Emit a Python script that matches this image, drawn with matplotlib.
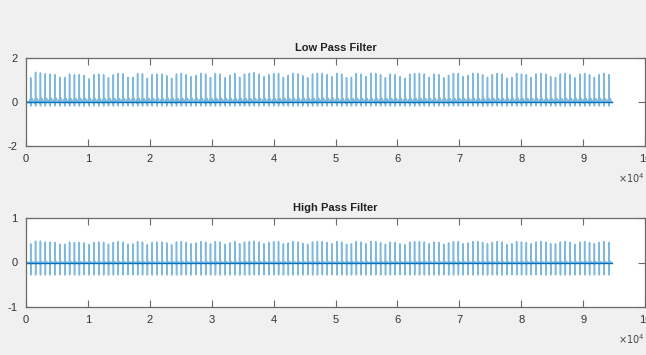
import numpy as np
import matplotlib
matplotlib.use("Agg")
import matplotlib.pyplot as plt
from matplotlib import font_manager

# ---------------- data ----------------
n_samples = 94600          # signal length (samples)
beat_start = 760           # sample of first R peak
rr_interval = 785          # samples between beats

# R-peak heights of the low-pass filtered signal (one per beat)
lp_peaks = [1.10, 1.35, 1.32, 1.28, 1.27, 1.24, 1.12, 1.12, 1.27, 1.24,
            1.24, 1.21, 1.05, 1.24, 1.27, 1.24, 1.10, 1.24, 1.30, 1.28,
            1.12, 1.12, 1.30, 1.28, 1.08, 1.24, 1.27, 1.27, 1.19, 1.08,
            1.27, 1.30, 1.24, 1.15, 1.21, 1.30, 1.27, 1.12, 1.30, 1.27,
            1.10, 1.21, 1.30, 1.12, 1.27, 1.30, 1.33, 1.27, 1.15, 1.24,
            1.30, 1.30, 1.12, 1.21, 1.30, 1.28, 1.19, 1.10, 1.27, 1.30,
            1.30, 1.24, 1.15, 1.30, 1.27, 1.10, 1.12, 1.30, 1.27, 1.15,
            1.30, 1.30, 1.24, 1.10, 1.27, 1.24, 1.15, 1.08, 1.27, 1.30,
            1.30, 1.27, 1.12, 1.27, 1.24, 1.10, 1.21, 1.30, 1.30, 1.15,
            1.21, 1.30, 1.30, 1.24, 1.12, 1.24, 1.30, 1.27, 1.08, 1.12,
            1.30, 1.27, 1.24, 1.12, 1.27, 1.30, 1.27, 1.15, 1.12, 1.27,
            1.30, 1.24, 1.10, 1.27, 1.30, 1.24, 1.12, 1.24, 1.30, 1.24]

# R-peak heights and S-troughs of the high-pass filtered signal
hp_peaks = [0.42, 0.48, 0.48, 0.46, 0.46, 0.45, 0.41, 0.41, 0.46, 0.45,
            0.45, 0.44, 0.40, 0.45, 0.46, 0.45, 0.41, 0.45, 0.47, 0.46,
            0.41, 0.42, 0.47, 0.46, 0.40, 0.45, 0.46, 0.46, 0.44, 0.40,
            0.46, 0.47, 0.45, 0.42, 0.44, 0.47, 0.46, 0.42, 0.47, 0.46,
            0.41, 0.44, 0.47, 0.42, 0.46, 0.47, 0.48, 0.46, 0.42, 0.45,
            0.47, 0.47, 0.42, 0.44, 0.47, 0.46, 0.43, 0.41, 0.46, 0.47,
            0.47, 0.45, 0.42, 0.47, 0.46, 0.41, 0.42, 0.47, 0.46, 0.42,
            0.47, 0.47, 0.45, 0.41, 0.46, 0.45, 0.42, 0.40, 0.46, 0.47,
            0.47, 0.46, 0.42, 0.46, 0.45, 0.41, 0.44, 0.47, 0.47, 0.42,
            0.44, 0.47, 0.47, 0.45, 0.42, 0.45, 0.47, 0.46, 0.40, 0.42,
            0.47, 0.46, 0.45, 0.42, 0.46, 0.47, 0.46, 0.42, 0.42, 0.46,
            0.47, 0.45, 0.41, 0.46, 0.47, 0.45, 0.42, 0.45, 0.47, 0.45]
hp_trough = -0.28

# beat shape (offsets from R peak in samples, values); R peak scaled per beat
lp_offsets = [-330, -210, -160, -110, -30, -12, 0, 14, 30, 60, 140, 230, 320, 400]
lp_values  = [0.00, 0.02, 0.10, 0.01, -0.08, 0.05, None, -0.18, 0.02, 0.03, 0.10, 0.16, 0.04, 0.00]
hp_offsets = [-330, -30, -10, 0, 14, 30, 60, 200, 400]
hp_values  = [0.00, 0.00, -0.04, None, None, 0.00, 0.01, 0.02, 0.00]

x_ticks = [0, 1, 2, 3, 4, 5, 6, 7, 8, 9, 10]
lp_yticks = [-2, 0, 2]
hp_yticks = [-1, 0, 1]

# ---------------- build signals from the beats ----------------
def build(offsets, values, peaks, trough=None):
    xs, ys = [0.0], [0.0]
    for i, h in enumerate(peaks):
        c = beat_start + i * rr_interval
        for k, (o, v) in enumerate(zip(offsets, values)):
            if v is None:
                v = h if (trough is None or offsets[k] == 0) else trough
            xs.append(c + o)
            ys.append(v)
    xs.append(n_samples)
    ys.append(0.0)
    return np.array(xs), np.array(ys)

lp_x, lp_y = build(lp_offsets, lp_values, lp_peaks)
hp_x, hp_y = build(hp_offsets, hp_values, hp_peaks, trough=hp_trough)

# ---------------- fonts ----------------
avail = {f.name for f in font_manager.fontManager.ttflist}
fam = ['Liberation Sans Narrow'] if 'Liberation Sans Narrow' in avail else []
fam += ['Liberation Sans', 'DejaVu Sans']
plt.rcParams['font.family'] = fam

# ---------------- figure ----------------
W, H = 646, 355
fig = plt.figure(figsize=(W / 100, H / 100), dpi=100, facecolor='#f0f0f0')

line_col = '#0072BD'
axis_col = '#6a6a6a'

def px_axes(left, top, right, bottom):
    return fig.add_axes([left / W, 1 - bottom / H, (right - left) / W, (bottom - top) / H])

ax1 = px_axes(26, 58, 645, 146)
ax2 = px_axes(26, 218, 645, 307)

for ax, (x, y), yt, title in [(ax1, (lp_x, lp_y), lp_yticks, 'Low Pass Filter'),
                              (ax2, (hp_x, hp_y), hp_yticks, 'High Pass Filter')]:
    ax.set_facecolor('white')
    ax.plot(x, y, color=line_col, lw=1.1, alpha=0.5)
    ax.plot([0, n_samples], [0, 0], color=line_col, lw=1.0)
    ax.set_xlim(0, 100000)
    ax.set_ylim(yt[0], yt[-1])
    ax.set_xticks([t * 10000 for t in x_ticks])
    ax.set_xticklabels([str(t) for t in x_ticks])
    ax.set_yticks(yt)
    ax.set_yticklabels([str(t) for t in yt])
    ax.tick_params(direction='in', length=5, width=0.8, colors=axis_col,
                   labelcolor='#333333', labelsize=8, top=True, right=True, pad=6)
    for s in ax.spines.values():
        s.set_color(axis_col)
        s.set_linewidth(0.9)
    ax.set_title(title, fontsize=8, fontweight='bold', color='#222222', pad=5)
    ax.text(1.0, -0.44, r'$\times10^{4}$', transform=ax.transAxes, ha='right',
            va='bottom', fontsize=7, color='#444444')

fig.savefig('out.png', dpi=100, facecolor=fig.get_facecolor())
